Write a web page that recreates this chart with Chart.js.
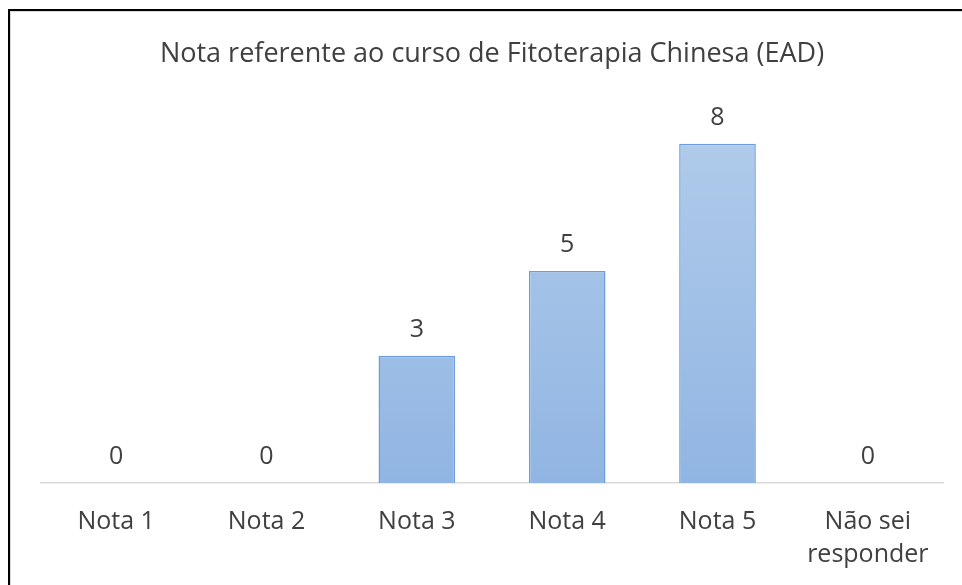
<!DOCTYPE html>
<html>
<head>
<meta charset="utf-8">
<script src="https://cdn.jsdelivr.net/npm/chart.js@4.4.0/dist/chart.umd.min.js"></script>
<style>
  body { margin: 0; background: #fff; }
  #wrap { position: relative; width: 962px; height: 585px; overflow: hidden; }
  #frame {
    position: absolute; left: 8px; top: 9px; width: 1000px; height: 700px;
    border-top: 2px solid #000; border-left: 2px solid #000;
    box-shadow: inset 1px 1px 0 #d9d9d9;
  }
  canvas { position: absolute; left: 0; top: 0; }
</style>
</head>
<body>
<div id="wrap">
  <div id="frame"></div>
  <canvas id="notaChart" width="962" height="585"></canvas>
</div>
<script>
// dados do grafico
const categorias = ['Nota 1', 'Nota 2', 'Nota 3', 'Nota 4', 'Nota 5', ['Não sei', 'responder']];
const respostas = [0, 0, 3, 5, 8, 0];
const titulo = 'Nota referente ao curso de Fitoterapia Chinesa (EAD)';

const fonte = '"Open Sans", "Noto Sans", sans-serif';
const corTexto = '#404040';

// gradiente das barras
function gradiente(context) {
  const chart = context.chart;
  const area = chart.chartArea;
  if (!area) return '#a3c1e6';
  const g = chart.ctx.createLinearGradient(0, area.top, 0, area.bottom);
  g.addColorStop(0, '#b3cdeb');
  g.addColorStop(1, '#91b5e2');
  return g;
}

// rotulos em cima das barras
const rotulos = {
  id: 'rotulos',
  afterDatasetsDraw(chart) {
    const ctx = chart.ctx;
    const meta = chart.getDatasetMeta(0);
    ctx.save();
    ctx.font = '25px ' + fonte;
    ctx.fillStyle = corTexto;
    ctx.textAlign = 'center';
    ctx.textBaseline = 'middle';
    meta.data.forEach((bar, i) => {
      ctx.fillText(respostas[i], bar.x, bar.y - 26);
    });
    ctx.restore();
  }
};

const ctx = document.getElementById('notaChart').getContext('2d');

const myChart = new Chart(ctx, {
  type: 'bar',
  data: {
    labels: categorias,
    datasets: [{
      label: 'Respostas',
      data: respostas,
      backgroundColor: gradiente,
      borderColor: '#6a9fdb',
      borderWidth: 1.5,
      borderSkipped: 'bottom',
      categoryPercentage: 1,
      barPercentage: 0.51
    }]
  },
  options: {
    responsive: false,
    animation: false,
    layout: {
      padding: { top: 10, left: 41, right: 19, bottom: 0 }
    },
    plugins: {
      legend: { display: false },
      tooltip: { enabled: false },
      title: {
        display: true,
        text: titulo,
        color: corTexto,
        font: { family: fonte, size: 27, weight: 'normal', lineHeight: 1.2 },
        padding: { top: 28, bottom: 31 }
      }
    },
    scales: {
      x: {
        grid: { display: false },
        border: { display: true, color: '#d9d9d9', width: 1.5 },
        ticks: {
          color: corTexto,
          font: { family: fonte, size: 25, lineHeight: 1.3 },
          padding: 15,
          maxRotation: 0
        },
        afterFit: (scale) => { scale.height = 102; }
      },
      y: {
        display: false,
        min: 0,
        max: 9
      }
    }
  },
  plugins: [rotulos]
});
</script>
</body>
</html>
